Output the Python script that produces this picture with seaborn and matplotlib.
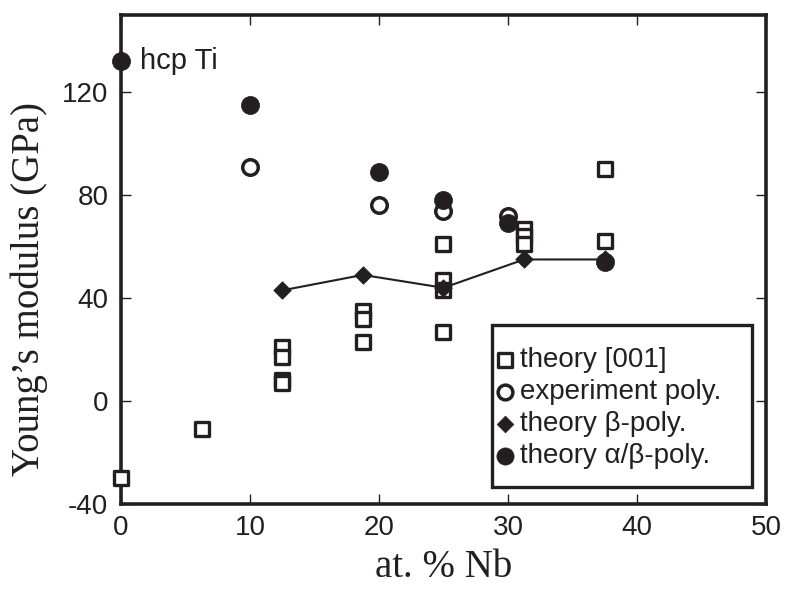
import matplotlib
matplotlib.use('Agg')
import matplotlib.pyplot as plt
from matplotlib.patches import Rectangle
import pandas as pd
import seaborn as sns

#%% values
sq_x = [0, 6.25, 12.5, 12.5, 12.5, 12.5, 18.75, 18.75, 18.75, 25, 25, 25, 25, 31.25, 31.25, 31.25, 37.5, 37.5]
sq_y = [-30, -11, 21, 17, 8, 7, 35, 32, 23, 61, 47, 43, 27, 67, 64, 61, 90, 62]

exp_x = [10, 20, 25, 30]
exp_y = [91, 76, 74, 72]

beta_x = [12.5, 18.75, 25, 31.25, 37.5]
beta_y = [43, 49, 44, 55, 55]

ab_x = [0, 10, 20, 25, 30, 37.5]
ab_y = [132, 115, 89, 78, 69, 54]

labels = ['theory [001]', 'experiment poly.', 'theory β-poly.', 'theory α/β-poly.']

#%%
sns.set_style('ticks')
plt.rcParams['font.family'] = ['Liberation Sans', 'DejaVu Sans']
plt.rcParams['axes.unicode_minus'] = False

df_sq = pd.DataFrame({'x': sq_x, 'y': sq_y})
df_exp = pd.DataFrame({'x': exp_x, 'y': exp_y})
df_beta = pd.DataFrame({'x': beta_x, 'y': beta_y})
df_ab = pd.DataFrame({'x': ab_x, 'y': ab_y})

ink = '#231f20'
fig = plt.figure(figsize=(7.87, 5.95), dpi=100)
ax = fig.add_axes([0.1537, 0.153, 0.8196, 0.8218])

sns.lineplot(data=df_beta, x='x', y='y', color=ink, linewidth=1.5, ax=ax, zorder=2)
sns.scatterplot(data=df_sq, x='x', y='y', marker='s', s=115, facecolor='white',
                edgecolor=ink, linewidth=2.4, label=labels[0], ax=ax, zorder=3, clip_on=False)
sns.scatterplot(data=df_exp, x='x', y='y', marker='o', s=125, facecolor='white',
                edgecolor=ink, linewidth=2.5, label=labels[1], ax=ax, zorder=3)
sns.scatterplot(data=df_beta, x='x', y='y', marker='D', s=80, color=ink,
                edgecolor=ink, linewidth=0.5, label=labels[2], ax=ax, zorder=4)
sns.scatterplot(data=df_ab, x='x', y='y', marker='o', s=170, color=ink,
                edgecolor=ink, linewidth=0.5, label=labels[3], ax=ax, zorder=5, clip_on=False)

ax.text(1.45, 132, 'hcp Ti', fontsize=21, va='center', ha='left', color=ink)

ax.set_xlim(0, 50)
ax.set_ylim(-40, 150)
ax.set_xticks([0, 10, 20, 30, 40, 50])
ax.set_yticks([-40, 0, 40, 80, 120])
ax.tick_params(direction='in', length=7, width=1, top=True, right=True,
               labelsize=20, colors=ink)
ax.tick_params(axis='x', pad=8)
ax.tick_params(axis='y', pad=9)
for sp in ax.spines.values():
    sp.set_linewidth(2.6)
    sp.set_color(ink)

ax.set_xlabel('at. % Nb', family='Liberation Serif', fontsize=28, color=ink, labelpad=6)
ax.set_ylabel('Young’s modulus (GPa)', family='Liberation Serif', fontsize=28, color=ink)
ax.yaxis.set_label_coords(-0.113, 0.44)

# legend box drawn separately so the padding can differ per direction
ax.add_patch(Rectangle((0.575, 0.035), 0.403, 0.331, transform=ax.transAxes,
                       facecolor='white', edgecolor=ink, linewidth=2.4, zorder=6))
leg = ax.legend(loc='center left', bbox_to_anchor=(0.584, 0.196),
                frameon=False, fontsize=20, handletextpad=0.27,
                handlelength=0.55, borderpad=0, labelspacing=0.22, borderaxespad=0,
                markerscale=0.95)
leg.set_zorder(7)
for t in leg.get_texts():
    t.set_color(ink)

fig.savefig('out.png', dpi=100)
